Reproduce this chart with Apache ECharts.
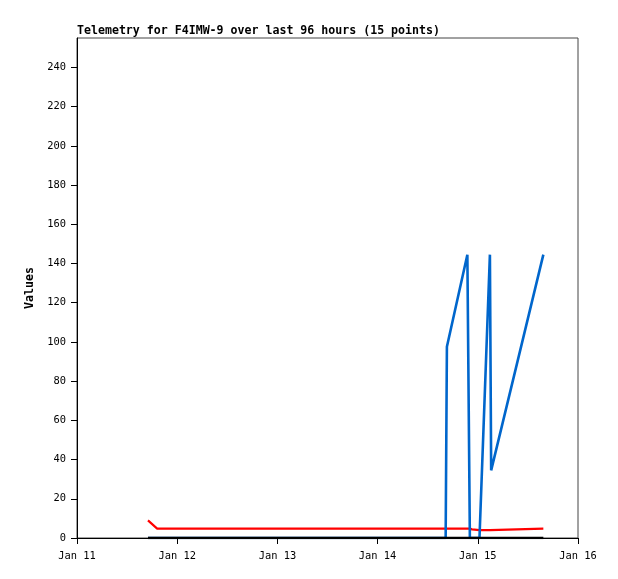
<!DOCTYPE html>
<html>
<head>
<meta charset="utf-8">
<script src="https://cdn.jsdelivr.net/npm/echarts@6/dist/echarts.min.js"></script>
<style>html,body{margin:0;padding:0;background:#fff}#c{width:618px;height:579px}</style>
</head>
<body>
<div id="c"></div>
<script>
// hours since Jan 11 00:00
var hours = [17.0, 19.2, 88.3, 88.6, 93.5, 94.1, 94.6, 96.4, 98.9, 99.2, 111.7];
var redVals = [9, 4.8, 4.8, 4.8, 4.8, 4.8, 4.4, 4, 4, 4.8, 4.8];
var blueVals = [0, 0, 0, 97.5, 144.5, 0, 0, 0, 144.5, 34.5, 144.5];
var blackVals = [0, 0, 0, 0, 0, 0, 0, 0, 0, 0, 0];
var xTickLabels = ['Jan 11', 'Jan 12', 'Jan 13', 'Jan 14', 'Jan 15', 'Jan 16'];

function pairs(v) { return hours.map(function (h, i) { return [h, v[i]]; }); }

var chart = echarts.init(document.getElementById('c'), null, {renderer: 'canvas'});
var mono = 'DejaVu Sans Mono';
chart.setOption({
  animation: false,
  title: {
    text: 'Telemetry for F4IMW-9 over last 96 hours (15 points)',
    left: 72, top: 20,
    textStyle: {fontFamily: mono, fontSize: 11.6, fontWeight: 'bold', color: '#000'}
  },
  grid: {left: 77, right: 40, top: 38, bottom: 41, show: true, borderColor: '#444', borderWidth: 1},
  xAxis: {
    type: 'value', min: 0, max: 120, interval: 24,
    axisLine: {show: true, onZero: false, lineStyle: {color: '#000', width: 1}},
    axisTick: {show: true, length: 6, lineStyle: {color: '#000'}},
    splitLine: {show: false},
    axisLabel: {
      margin: 13, fontFamily: mono, fontSize: 10.4, color: '#000',
      formatter: function (v) { return xTickLabels[Math.round(v / 24)]; }
    }
  },
  yAxis: {
    type: 'value', min: 0, max: 255, interval: 20,
    name: 'Values', nameLocation: 'middle', nameGap: 40,
    nameTextStyle: {fontFamily: mono, fontSize: 11.6, fontWeight: 'bold', color: '#000'},
    axisLine: {show: true, lineStyle: {color: '#000', width: 1}},
    axisTick: {show: true, length: 6, lineStyle: {color: '#000'}},
    splitLine: {show: false},
    axisLabel: {margin: 11, fontFamily: mono, fontSize: 10.4, color: '#000', showMaxLabel: false}
  },
  series: [
    {type: 'line', data: pairs(redVals), showSymbol: false, lineStyle: {color: '#ff0000', width: 2.2}, z: 2},
    {type: 'line', data: pairs(blueVals), showSymbol: false, lineStyle: {color: '#0066cc', width: 2.6}, z: 3},
    {type: 'line', data: pairs(blackVals), showSymbol: false, lineStyle: {color: '#000000', width: 2.6}, z: 4}
  ]
});
</script>
</body>
</html>
